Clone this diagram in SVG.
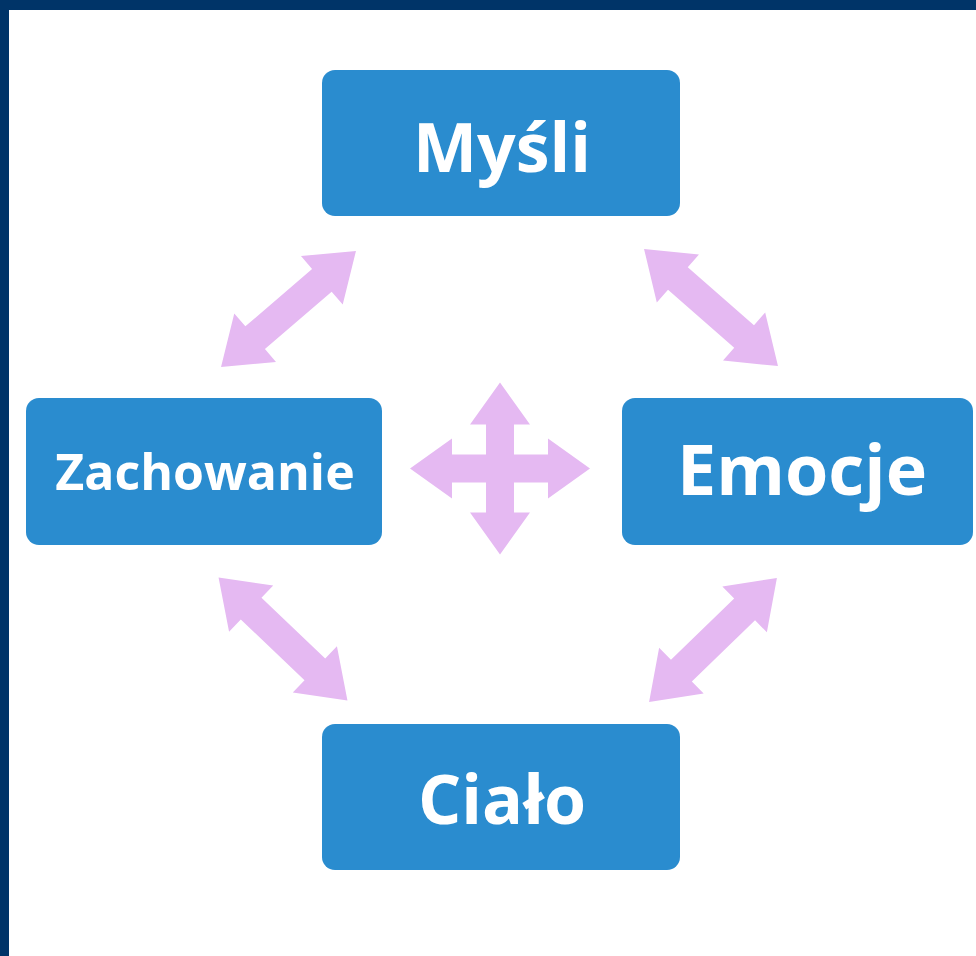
<svg xmlns="http://www.w3.org/2000/svg" width="976" height="956" viewBox="0 0 976 956">
  <style>
    .box { fill: #2A8CCF; }
    .lbl { fill: #FFFFFF; font-family: "Open Sans", "Noto Sans", "DejaVu Sans", sans-serif; font-weight: 700; text-anchor: middle; }
    .arr { fill: #E5B9F2; }
  </style>
  <defs>
    <path id="dbl" d="M-89,0 L-44,-32 L-44,-15 L44,-15 L44,-32 L89,0 L44,32 L44,15 L-44,15 L-44,32 Z"/>
  </defs>
  <rect x="0" y="0" width="976" height="956" fill="#FFFFFF"/>
  <rect x="0" y="0" width="976" height="10" fill="#003468"/>
  <rect x="0" y="0" width="9" height="956" fill="#003468"/>

  <g id="connectors" class="arr">
    <use href="#dbl" transform="translate(288.5,309) rotate(-40.7)"/>
    <use href="#dbl" transform="translate(711,307.5) rotate(41.2)"/>
    <use href="#dbl" transform="translate(283,639) rotate(43.6)"/>
    <use href="#dbl" transform="translate(713,640) rotate(-44.1)"/>
    <path transform="translate(500,468.5)" d="M0,-86 L30,-44 L14,-44 L14,-14 L48,-14 L48,-30 L90,0 L48,30 L48,14 L14,14 L14,44 L30,44 L0,86 L-30,44 L-14,44 L-14,14 L-48,14 L-48,30 L-90,0 L-48,-30 L-48,-14 L-14,-14 L-14,-44 L-30,-44 Z"/>
  </g>

  <g id="mysli">
    <rect class="box" x="322" y="70" width="358" height="146" rx="13"/>
    <text class="lbl" x="502" y="172" font-size="68">Myśli</text>
  </g>
  <g id="zachowanie">
    <rect class="box" x="26" y="398" width="356" height="147" rx="13"/>
    <text class="lbl" x="205" y="490" font-size="50">Zachowanie</text>
  </g>
  <g id="emocje">
    <rect class="box" x="622" y="398" width="351" height="147" rx="13"/>
    <text class="lbl" x="802" y="495" font-size="70">Emocje</text>
  </g>
  <g id="cialo">
    <rect class="box" x="322" y="724" width="358" height="146" rx="13"/>
    <text class="lbl" x="502" y="824" font-size="68">Ciało</text>
  </g>
</svg>
